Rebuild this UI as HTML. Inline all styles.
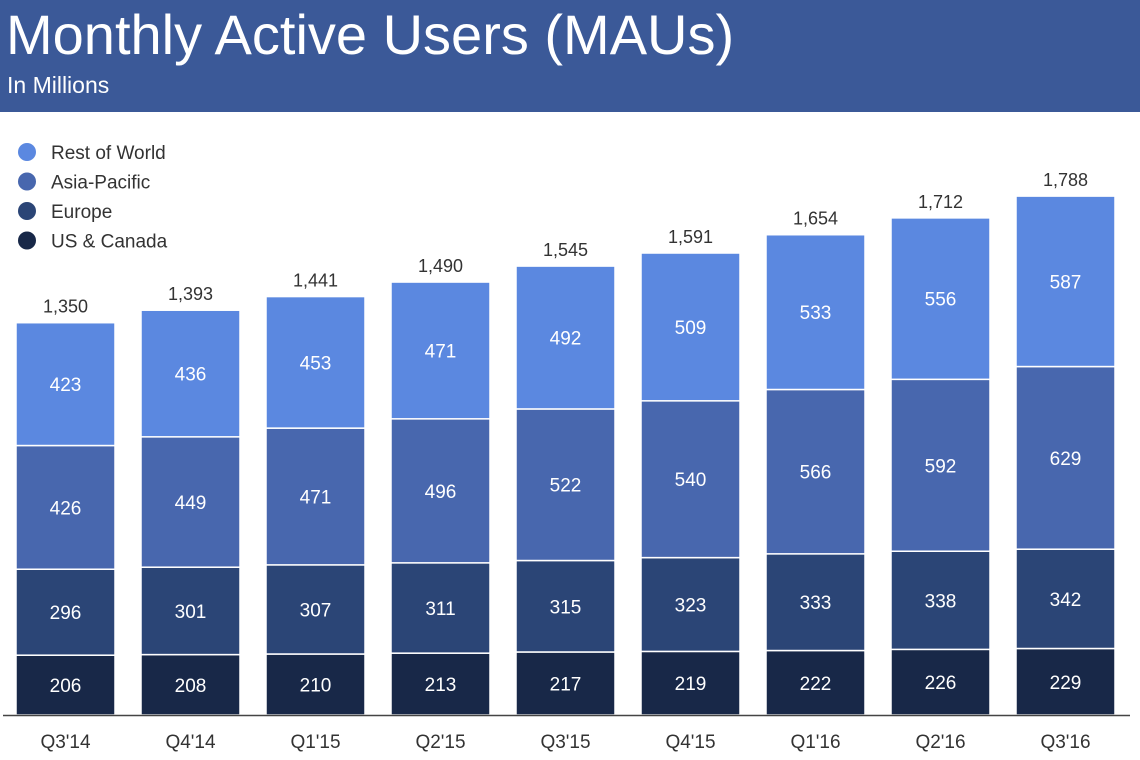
<!DOCTYPE html>
<html><head><meta charset="utf-8"><style>
body{margin:0;width:1140px;height:760px;background:#fff;overflow:hidden;font-family:"Liberation Sans",sans-serif}
#hdr{position:absolute;left:0;top:0;width:1140px;height:112px;background:#3b5998}
#t{position:absolute;left:6px;top:2px;color:#fff;font-size:56px;line-height:66px}
#st{position:absolute;left:7px;top:72px;color:#fff;font-size:23px}
svg{position:absolute;left:0;top:0}
</style></head><body>
<div id="hdr">
<div id="t">Monthly Active Users (MAUs)</div>
<div id="st">In Millions</div>
</div>
<svg id="c" width="1140" height="760"></svg>
<script>
const categories=["Q3'14","Q4'14","Q1'15","Q2'15","Q3'15","Q4'15","Q1'16","Q2'16","Q3'16"];
const usCanada=[206,208,210,213,217,219,222,226,229];
const europe=[296,301,307,311,315,323,333,338,342];
const asiaPacific=[426,449,471,496,522,540,566,592,629];
const restOfWorld=[423,436,453,471,492,509,533,556,587];
const totals=["1,350","1,393","1,441","1,490","1,545","1,591","1,654","1,712","1,788"];
const seriesNames=["US & Canada","Europe","Asia-Pacific","Rest of World"];
const colors=["#182848","#2b4576","#4867ae","#5b88e0"];
const series=[usCanada,europe,asiaPacific,restOfWorld];
const NS="http://www.w3.org/2000/svg";
const svg=document.getElementById('c');
const base=715, k=392/1350;
const y=v=>base-v*k;
const x=i=>16+i*125;
const bw=99;
function mk(t,a,txt){const e=document.createElementNS(NS,t);for(const q in a)e.setAttribute(q,a[q]);if(txt!==undefined)e.textContent=txt;svg.appendChild(e);return e;}
categories.forEach((c,i)=>{
  let cum=0;
  series.forEach((s,j)=>{
    const v=s[i];
    const r=mk('rect',{x:x(i),y:y(cum+v),width:bw,height:v*k,fill:colors[j],stroke:'#fff','stroke-width':1.5});
    
    
    const t=mk('text',{x:x(i)+bw/2,y:y(cum+v/2)+7,'text-anchor':'middle',fill:'#fff','font-size':19},v);
    
    
    cum+=v;
  });
  const tt=mk('text',{x:x(i)+bw/2,y:y(cum)-10,'text-anchor':'middle',fill:'#333','font-size':18},totals[i]);
  
  
  const xl=mk('text',{x:x(i)+bw/2,y:748,'text-anchor':'middle',fill:'#333','font-size':19},c);
  
  
});
const ax=mk('line',{x1:3,x2:1130,y1:base+0.5,y2:base+0.5,stroke:'#444','stroke-width':1.5});


[3,2,1,0].forEach((j,n)=>{
  const cy=152+n*29.5;
  const d=mk('circle',{cx:27,cy:cy,r:9,fill:colors[j]});
  
  
  const t=mk('text',{x:51,y:cy+7,fill:'#333','font-size':19},seriesNames[j]);
  
  
});
</script>
</body></html>
